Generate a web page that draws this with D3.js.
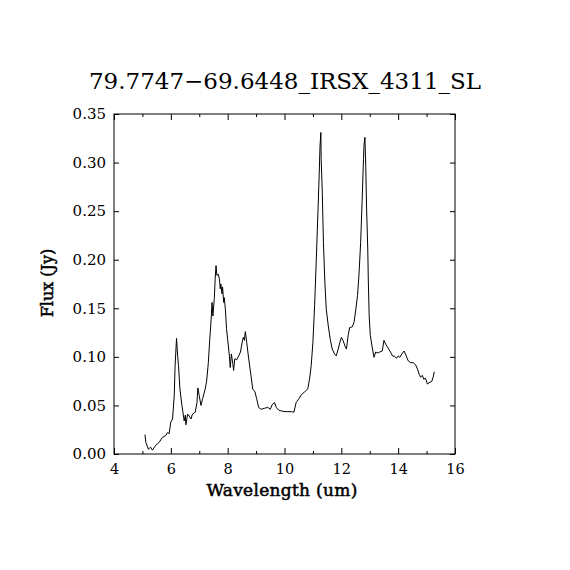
<!DOCTYPE html>
<html>
<head>
<meta charset="utf-8">
<script src="https://cdn.jsdelivr.net/npm/d3@7"></script>
<style>
  body { margin: 0; background: #fff; }
  text { font-family: "DejaVu Serif", "Liberation Serif", serif; fill: #000; }
</style>
</head>
<body>
<div id="chart"></div>
<script>
const wavelength = [5.09, 5.12, 5.21, 5.29, 5.35, 5.47, 5.59, 5.70, 5.82, 5.88, 5.94, 6.00, 6.06, 6.12, 6.15, 6.20, 6.24, 6.27, 6.32, 6.39,
  6.47, 6.51, 6.53, 6.59, 6.65, 6.71, 6.76, 6.86, 6.92, 6.95, 7.00, 7.06, 7.12, 7.21, 7.26, 7.32, 7.37, 7.42, 7.45, 7.48,
  7.53, 7.56, 7.59, 7.62, 7.67, 7.71, 7.74, 7.76, 7.80, 7.82, 7.86, 7.88, 7.92, 7.96, 8.00, 8.06, 8.09, 8.13, 8.18, 8.21,
  8.25, 8.32, 8.39, 8.45, 8.51, 8.55, 8.59, 8.62, 8.67, 8.74, 8.82, 8.88, 8.96, 9.02, 9.09, 9.18, 9.29, 9.41, 9.50, 9.57,
  9.65, 9.71, 9.80, 9.94, 10.06, 10.24, 10.33, 10.41, 10.51, 10.59, 10.71, 10.82, 10.88, 10.94, 11.00, 11.06, 11.12, 11.18, 11.22, 11.25,
  11.28, 11.29, 11.33, 11.37, 11.42, 11.47, 11.54, 11.61, 11.68, 11.76, 11.82, 11.89, 11.95, 12.00, 12.06, 12.13, 12.18, 12.24, 12.29, 12.39,
  12.45, 12.51, 12.57, 12.62, 12.68, 12.73, 12.78, 12.80, 12.83, 12.86, 12.89, 12.93, 12.95, 12.98, 13.02, 13.08, 13.15, 13.21, 13.28, 13.35,
  13.44, 13.50, 13.56, 13.65, 13.73, 13.80, 13.88, 13.94, 14.00, 14.06, 14.13, 14.21, 14.27, 14.35, 14.44, 14.53, 14.61, 14.68, 14.74, 14.79,
  14.85, 14.90, 14.96, 15.03, 15.12, 15.18, 15.23, 15.27];
const flux = [0.020, 0.012, 0.005, 0.007, 0.004, 0.009, 0.012, 0.017, 0.019, 0.022, 0.021, 0.033, 0.036, 0.060, 0.091, 0.119, 0.101, 0.091, 0.067, 0.050,
  0.034, 0.040, 0.030, 0.041, 0.039, 0.036, 0.041, 0.043, 0.053, 0.068, 0.060, 0.050, 0.057, 0.067, 0.075, 0.094, 0.118, 0.139, 0.156, 0.142,
  0.160, 0.180, 0.194, 0.184, 0.185, 0.180, 0.170, 0.175, 0.165, 0.172, 0.156, 0.161, 0.149, 0.129, 0.118, 0.101, 0.089, 0.103, 0.093, 0.086,
  0.098, 0.097, 0.101, 0.105, 0.115, 0.120, 0.117, 0.126, 0.115, 0.098, 0.081, 0.067, 0.064, 0.057, 0.048, 0.046, 0.047, 0.048, 0.046, 0.051,
  0.053, 0.048, 0.045, 0.044, 0.0436, 0.0436, 0.043, 0.053, 0.057, 0.061, 0.064, 0.067, 0.077, 0.091, 0.115, 0.153, 0.201, 0.252, 0.287, 0.317,
  0.331, 0.304, 0.269, 0.218, 0.177, 0.149, 0.132, 0.118, 0.108, 0.103, 0.101, 0.108, 0.115, 0.120, 0.117, 0.111, 0.108, 0.122, 0.130, 0.131,
  0.136, 0.149, 0.163, 0.184, 0.218, 0.259, 0.304, 0.319, 0.326, 0.295, 0.252, 0.211, 0.177, 0.142, 0.122, 0.111, 0.0995, 0.105, 0.104, 0.105,
  0.106, 0.117, 0.113, 0.109, 0.105, 0.101, 0.1005, 0.0985, 0.101, 0.0995, 0.103, 0.106, 0.102, 0.096, 0.094, 0.094, 0.092, 0.0875, 0.082, 0.079,
  0.081, 0.077, 0.078, 0.072, 0.074, 0.0745, 0.079, 0.0847];
const xTicks = [4, 6, 8, 10, 12, 14, 16];
const xMinorTicks = [5, 7, 9, 11, 13, 15];
const yTicks = [0, 0.05, 0.10, 0.15, 0.20, 0.25, 0.30, 0.35];
const title = "79.7747\u221269.6448_IRSX_4311_SL";

const width = 570;
const height = 570;
const margin = { top: 114, right: 115, bottom: 116, left: 114 };

const svg = d3.select('#chart')
  .append('svg')
  .attr('width', width)
  .attr('height', height);

const x = d3.scaleLinear()
  .domain([4, 16])
  .range([margin.left, width - margin.right]);

const y = d3.scaleLinear()
  .domain([0, 0.35])
  .range([height - margin.bottom, margin.top]);

const data = wavelength.map((w, i) => ({ w: w, f: flux[i] }));

// frame
svg.append('rect')
  .attr('x', x(4)).attr('y', y(0.35))
  .attr('width', x(16) - x(4)).attr('height', y(0) - y(0.35))
  .attr('fill', 'none').attr('stroke', '#000').attr('stroke-width', 1);

// ticks pointing inward on all four sides
const axBottom = svg.append('g').attr('transform', `translate(0,${y(0)})`);
axBottom.call(d3.axisBottom(x).tickValues(xTicks).tickSize(-6).tickPadding(10).tickFormat(d3.format('d')));
axBottom.append('g').call(d3.axisBottom(x).tickValues(xMinorTicks).tickSize(-3).tickFormat(''));

const axTop = svg.append('g').attr('transform', `translate(0,${y(0.35)})`);
axTop.call(d3.axisTop(x).tickValues(xTicks).tickSize(-6).tickFormat(''));
axTop.append('g').call(d3.axisTop(x).tickValues(xMinorTicks).tickSize(-3).tickFormat(''));

const axLeft = svg.append('g').attr('transform', `translate(${x(4)},0)`);
axLeft.call(d3.axisLeft(y).tickValues(yTicks).tickSize(-5).tickPadding(8).tickFormat(d3.format('.2f')));

const axRight = svg.append('g').attr('transform', `translate(${x(16)},0)`);
axRight.call(d3.axisRight(y).tickValues(yTicks).tickSize(-5).tickFormat(''));

svg.selectAll('.domain').remove();
svg.selectAll('.tick line').attr('stroke', '#000');
svg.selectAll('.tick text').attr('font-family', '"DejaVu Serif", serif');
axLeft.selectAll('.tick text').attr('font-size', 15);
axBottom.selectAll('.tick text').attr('font-size', 14.5);

// spectrum
svg.append('path')
  .datum(data)
  .attr('fill', 'none')
  .attr('stroke', '#000')
  .attr('stroke-width', 1)
  .attr('d', d3.line().x(d => x(d.w)).y(d => y(d.f)));

svg.append('text')
  .attr('x', 285).attr('y', 89)
  .attr('text-anchor', 'middle')
  .attr('font-size', 23)
  .text(title);

// axis titles: regular weight with a thin outline, a bit heavier than tick labels
svg.append('text')
  .attr('x', 282).attr('y', 496)
  .attr('text-anchor', 'middle')
  .attr('font-size', 17)
  .attr('letter-spacing', 0.3)
  .attr('stroke', '#000').attr('stroke-width', 0.5)
  .text('Wavelength (um)');

svg.append('text')
  .attr('transform', `translate(53,283) rotate(-90)`)
  .attr('text-anchor', 'middle')
  .attr('font-size', 16)
  .attr('stroke', '#000').attr('stroke-width', 0.5)
  .text('Flux (Jy)');
</script>
</body>
</html>
